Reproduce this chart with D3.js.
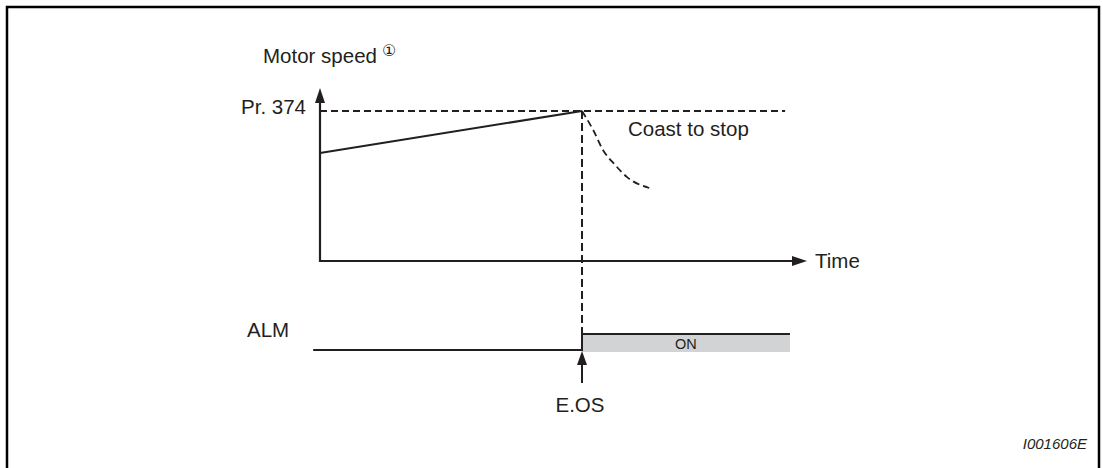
<!DOCTYPE html>
<html>
<head>
<meta charset="utf-8">
<script src="https://cdn.jsdelivr.net/npm/d3@7/dist/d3.min.js"></script>
<style>
  html, body { margin: 0; padding: 0; background: #fff; }
  svg { display: block; }
  text { font-family: "Liberation Sans", Arial, sans-serif; fill: #231f20; }
</style>
</head>
<body>
<svg id="chart" width="1103" height="468"></svg>
<script>
// ---------------- data ----------------
const axisLabels = ["Time", "Motor speed"];
const levelLabels = ["Pr. 374"];
const signalLabels = ["ALM", "ON", "E.OS"];
const annotationLabels = ["Coast to stop"];
const noteMark = "\u2460";
const figureId = "I001606E";

const prLevel = 86.7;            // Pr. 374 speed level (% of axis)
const tripTime = 53.8;           // time of E.OS trip
const prDashEnd = 95.5;          // end of Pr. 374 dashed reference
const rampTimes = [0, 53.8];
const rampSpeeds = [62.4, 86.7];
const coastTimes = [53.8, 56.1, 58.1, 60.6, 63.0, 67.6];
const coastSpeeds = [86.7, 75.7, 64.2, 55.5, 48.6, 42.2];
const almTimes = [-1.4, 53.8, 53.8, 96.5];
const almStates = [0, 0, 1, 1];

// ---------------- scales ----------------
const svg = d3.select("#chart");
const ink = "#231f20";
const x = d3.scaleLinear().domain([0, 100]).range([320, 807]);
const y = d3.scaleLinear().domain([0, 100]).range([261, 88]);
const ya = d3.scaleLinear().domain([0, 1]).range([350, 334]);

// frame
svg.append("rect").attr("x", 7).attr("y", 7).attr("width", 1092).attr("height", 480)
  .attr("fill", "none").attr("stroke", "#000").attr("stroke-width", 2.5);

// ALM ON fill
svg.append("rect")
  .attr("x", x(tripTime)).attr("y", ya(1))
  .attr("width", x(almTimes[3]) - x(tripTime)).attr("height", ya(0) + 2 - ya(1))
  .attr("fill", "#d1d3d4");

// axes
const axisG = svg.append("g").attr("stroke", ink).attr("stroke-width", 2.2).attr("fill", "none");
axisG.append("path").attr("d", d3.line()([[x(0), y(100) + 12], [x(0), y(0)], [x(100) - 12, y(0)]]));
// arrowheads
svg.append("path").attr("fill", ink)
  .attr("d", `M${x(0)},${y(100)} L${x(0) - 5},${y(100) + 15} L${x(0) + 5},${y(100) + 15} Z`);
svg.append("path").attr("fill", ink)
  .attr("d", `M${x(100)},${y(0)} L${x(100) - 15},${y(0) - 5} L${x(100) - 15},${y(0) + 5} Z`);

// Pr. 374 dashed level
svg.append("line")
  .attr("x1", x(0)).attr("x2", x(prDashEnd)).attr("y1", y(prLevel)).attr("y2", y(prLevel))
  .attr("stroke", ink).attr("stroke-width", 1.8).attr("stroke-dasharray", "7,4");

// speed ramp
svg.append("path")
  .attr("d", d3.line().x((d, i) => x(rampTimes[i])).y((d, i) => y(rampSpeeds[i]))(rampTimes))
  .attr("fill", "none").attr("stroke", ink).attr("stroke-width", 2);

// coast curve
svg.append("path")
  .attr("d", d3.line().curve(d3.curveMonotoneX)
    .x((d, i) => x(coastTimes[i])).y((d, i) => y(coastSpeeds[i]))(coastTimes))
  .attr("fill", "none").attr("stroke", ink).attr("stroke-width", 1.8).attr("stroke-dasharray", "7,4");

// vertical trip dashed line
svg.append("line")
  .attr("x1", x(tripTime)).attr("x2", x(tripTime)).attr("y1", y(prLevel)).attr("y2", ya(1))
  .attr("stroke", ink).attr("stroke-width", 2).attr("stroke-dasharray", "8,4");

// ALM signal
svg.append("path")
  .attr("d", d3.line().x((d, i) => x(almTimes[i])).y((d, i) => ya(almStates[i]))(almTimes))
  .attr("fill", "none").attr("stroke", ink).attr("stroke-width", 2);

// E.OS arrow
svg.append("line")
  .attr("x1", x(tripTime)).attr("x2", x(tripTime)).attr("y1", ya(0) + 33).attr("y2", ya(0) + 12)
  .attr("stroke", ink).attr("stroke-width", 2);
svg.append("path").attr("fill", ink)
  .attr("d", `M${x(tripTime)},${ya(0) + 1} L${x(tripTime) - 5},${ya(0) + 15} L${x(tripTime) + 5},${ya(0) + 15} Z`);

// ---------------- text ----------------
const fs = 20.5;
svg.append("text").attr("x", 263).attr("y", 63).attr("font-size", fs).text(axisLabels[1]);
svg.append("text").attr("x", 382).attr("y", 56).attr("font-size", 16)
  .style("font-family", "'DejaVu Sans', sans-serif").text(noteMark);
svg.append("text").attr("x", x(100) + 8).attr("y", y(0) + 7).attr("font-size", fs).text(axisLabels[0]);
svg.append("text").attr("x", x(0) - 14).attr("y", y(prLevel) + 3).attr("text-anchor", "end")
  .attr("font-size", fs).text(levelLabels[0]);
svg.append("text").attr("x", 628).attr("y", 136).attr("font-size", fs).text(annotationLabels[0]);
svg.append("text").attr("x", 247).attr("y", 337).attr("font-size", fs).text(signalLabels[0]);
svg.append("text").attr("x", (x(tripTime) + x(almTimes[3])) / 2).attr("y", 349)
  .attr("text-anchor", "middle").attr("font-size", 14.5).text(signalLabels[1]);
svg.append("text").attr("x", x(tripTime) - 2).attr("y", 412).attr("text-anchor", "middle")
  .attr("font-size", fs).text(signalLabels[2]);
svg.append("text").attr("x", 1087).attr("y", 449).attr("text-anchor", "end")
  .attr("font-size", 15).attr("font-style", "italic").text(figureId);
</script>
</body>
</html>
